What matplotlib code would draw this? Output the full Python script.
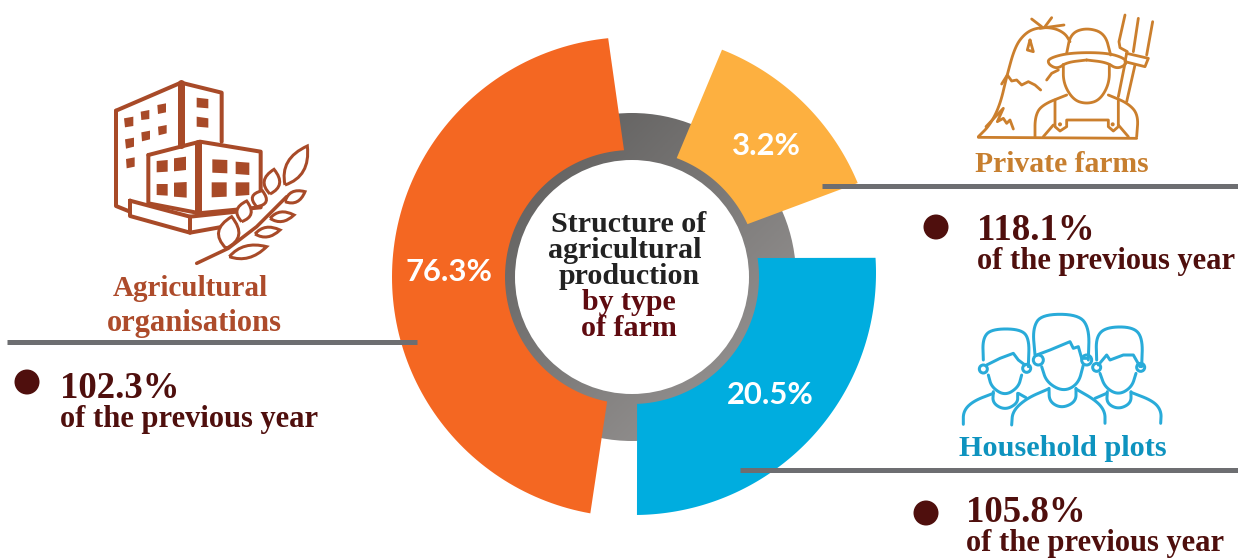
import numpy as np
import matplotlib
matplotlib.use("Agg")
import matplotlib.pyplot as plt
from matplotlib.colors import LinearSegmentedColormap
from matplotlib.patches import Circle, PathPatch, Polygon
from matplotlib.path import Path

# data
farm_names = ["Agricultural\norganisations", "Household plots", "Private farms"]
shares = [76.3, 20.5, 3.2]
growth = [102.3, 105.8, 118.1]
growth_note = "of the previous year"
title_dark = ["Structure of", "agricultural", "production"]
title_red = ["by type", "of farm"]

# the slices are not proportional in the original, so angles are read off the picture
outer_from = [95.7, 270.7, 22.6]
outer_to = [260.0, 363.6, 68.4]
inner_from = [93.6, 272.3, 24.6]
inner_to = [258.7, 368.6, 69.4]

colors = ["#F46722", "#00ADDF", "#FDB040"]
BROWN = "#A84A28"
ORANGE = "#CB7F2D"
BLUE = "#29ABD9"
MAROON = "#4F0F0D"
LINE = "#6D6E71"
SERIF = "Liberation Serif"
SANS = "Lato"
CX, CY = 632, 277

fig = plt.figure(figsize=(12.38, 5.58), dpi=100)
ax = fig.add_axes([0, 0, 1, 1])
ax.set_xlim(0, 1238)
ax.set_ylim(558, 0)
ax.axis("off")


def px(w):
    return w * 0.72


def to_xy(angle, r, cx=CX, cy=CY):
    t = np.radians(angle)
    return np.column_stack([cx + r * np.cos(t), cy - r * np.sin(t)])


# grey ring with diagonal gradient
grad = np.add.outer(np.linspace(0, 1, 200), np.linspace(0, 1, 200))
cmap = LinearSegmentedColormap.from_list("ring", ["#565554", "#a09d9c"])
im = ax.imshow(grad, cmap=cmap, extent=(CX - 165, CX + 165, CY + 165, CY - 165), zorder=1)
im.set_clip_path(Circle((CX, CY), 164, transform=ax.transData))
ax.set_xlim(0, 1238)
ax.set_ylim(558, 0)
ax.add_patch(Circle((CX, CY), 117, fc="white", ec="none", zorder=2))

# outer arcs are slightly off centre in the original
arc_geom = [(632, 277, 240), (634, 273, 242), (632, 277, 244.5)]
for i in range(3):
    cx, cy, r = arc_geom[i]
    outer = to_xy(np.linspace(outer_from[i], outer_to[i], 120), r, cx, cy)
    inner = to_xy(np.linspace(inner_to[i], inner_from[i], 80), 127)
    ax.add_patch(Polygon(np.vstack([outer, inner]), closed=True, fc=colors[i], ec="none", zorder=3))

# leader lines
ax.plot([7, 417], [342, 342], color=LINE, lw=px(5), solid_capstyle="butt", zorder=4)
ax.plot([822, 1238], [186, 186], color=LINE, lw=px(5), solid_capstyle="butt", zorder=4)
ax.plot([740, 1238], [470, 470], color=LINE, lw=px(5), solid_capstyle="butt", zorder=4)

# percentages on the slices
share_pos = [(449, 272), (770, 395), (766, 146)]
for (x, y), v in zip(share_pos, shares):
    ax.text(x, y, f"{v}%", color="white", family=SANS, weight="bold", fontsize=22.3,
            ha="center", va="center", zorder=5)

# centre title
title_y = [224, 251, 277, 303, 328]
title_x = [629, 625, 629, 629, 629]
for k, line in enumerate(title_dark + title_red):
    ax.text(title_x[k], title_y[k], line, color="#222222" if k < 3 else "#5F0B10",
            family=SERIF, weight="bold", fontsize=21.6, ha="center", va="center", zorder=5)

# farm names
ax.text(190, 289, "Agricultural", color="#AD4B2B", family=SERIF, weight="bold", fontsize=21,
        ha="center", va="center")
ax.text(194, 323, "organisations", color="#AD4B2B", family=SERIF, weight="bold", fontsize=22,
        ha="center", va="center")
ax.text(1062, 164, farm_names[2], color="#C77F2F", family=SERIF, weight="bold", fontsize=21.3,
        ha="center", va="center")
ax.text(1063, 449, farm_names[1], color="#0E93BF", family=SERIF, weight="bold", fontsize=21.8,
        ha="center", va="center")

# growth blocks
block_pos = [(27, 382, 60, 388, 419), (926, 513, 966, 512, 544), (936, 227, 977, 231, 262)]
for (dx, dy, tx, y1, y2), g in zip(block_pos, growth):
    ax.add_patch(Circle((dx, dy), 12.5, fc=MAROON, ec="none"))
    ax.text(tx, y1, f"{g}%", color=MAROON, family=SERIF, weight="bold", fontsize=26.5,
            ha="left", va="center")
    ax.text(tx, y2, growth_note, color=MAROON, family=SERIF, weight="bold", fontsize=22,
            ha="left", va="center")


# icons, coordinates taken from 3x crops
def smooth(pts, n=3):
    p = np.asarray(pts, float)
    for _ in range(n):
        q = p[:-1] * 0.75 + p[1:] * 0.25
        r = p[:-1] * 0.25 + p[1:] * 0.75
        p = np.vstack([p[0], np.column_stack([q, r]).reshape(-1, 2), p[-1]])
    return p


def stroke(origin, pts, color, w, curved=False, z=6):
    p = smooth(pts) if curved else np.asarray(pts, float)
    p = p / 3 + origin
    ax.plot(p[:, 0], p[:, 1], color=color, lw=px(w), solid_capstyle="round",
            solid_joinstyle="round", zorder=z)


def leaf(origin, base, tip, bulge):
    b, t = np.array(base, float), np.array(tip, float)
    d = t - b
    n = np.array([-d[1], d[0]]) / np.hypot(*d) * bulge * 1.8
    m = b + d * 0.45
    verts = [b, m + n, t, m - n, b]
    verts = [v / 3 + origin for v in verts]
    path = Path(verts, [Path.MOVETO, Path.CURVE3, Path.CURVE3, Path.CURVE3, Path.CURVE3])
    ax.add_patch(PathPatch(path, fc="white", ec=BROWN, lw=px(3), zorder=7))


o = np.array([100, 70])
for pts in [
    [(48, 122), (243, 38), (365, 68), (365, 215)],
    [(48, 122), (48, 408), (90, 425)],
    [(145, 255), (300, 215), (482, 245), (482, 412), (295, 430)],
    [(145, 255), (145, 400), (290, 428)],
    [(90, 392), (270, 440), (270, 488), (90, 438), (90, 392)],
    [(270, 488), (370, 470)],
    [(270, 440), (410, 425)],
]:
    stroke(o, pts, BROWN, 4)
stroke(o, [(243, 38), (243, 225)], BROWN, 7)
stroke(o, [(295, 218), (295, 430)], BROWN, 7)
windows = [
    [(72, 145), (100, 140), (100, 168), (75, 172)], [(122, 125), (148, 120), (148, 147), (124, 150)],
    [(172, 105), (198, 100), (198, 127), (174, 132)], [(75, 208), (102, 203), (102, 230), (78, 236)],
    [(124, 187), (150, 182), (150, 208), (126, 214)], [(174, 170), (200, 165), (200, 190), (176, 196)],
    [(78, 267), (104, 262), (104, 290), (80, 295)], [(290, 83), (325, 87), (325, 115), (290, 112)],
    [(290, 140), (325, 145), (325, 173), (290, 170)], [(170, 273), (203, 270), (203, 305), (170, 307)],
    [(222, 265), (258, 260), (258, 300), (222, 304)], [(170, 342), (203, 342), (203, 377), (170, 375)],
    [(222, 338), (260, 336), (260, 383), (222, 380)], [(337, 268), (382, 270), (382, 310), (337, 308)],
    [(407, 275), (448, 278), (448, 315), (407, 312)], [(335, 337), (380, 337), (380, 380), (335, 382)],
    [(407, 337), (448, 337), (448, 375), (407, 378)],
]
for w in windows:
    ax.add_patch(Polygon(np.array(w, float) / 3 + o, closed=True, fc=BROWN, ec="none", zorder=6))
for base, tip, b in [
    ((555, 345), (622, 228), 30), ((510, 372), (522, 298), 26), ((470, 410), (487, 362), 24),
    ((425, 455), (440, 393), 24), ((378, 535), (395, 440), 34), ((555, 395), (615, 365), 18),
    ((510, 445), (582, 435), 16), ((465, 492), (540, 480), 16), ((388, 560), (500, 530), 20),
]:
    leaf(o, base, tip, b)
stroke(o, [(290, 580), (385, 535), (470, 470), (560, 380)], BROWN, 3.5, z=8)

o = np.array([970, 5])
for pts, curved in [
    ([(25, 397), (500, 400)], False),
    ([(25, 395), (60, 360), (90, 300), (110, 215), (135, 125), (165, 85), (200, 68), (250, 68), (285, 85), (300, 110)], True),
    ([(185, 42), (215, 65)], False), ([(245, 38), (225, 65)], False), ([(210, 70), (282, 60)], False),
    ([(95, 237), (112, 210), (125, 228), (140, 225), (155, 240), (175, 230), (195, 240), (212, 255)], False),
    ([(48, 365), (100, 310), (82, 350), (100, 340), (110, 355), (120, 345), (130, 372)], False),
    ([(180, 105), (172, 135), (190, 140), (180, 105)], False),
    ([(230, 225), (245, 205), (265, 195)], False),
    ([(290, 145), (302, 85), (350, 68), (405, 85), (422, 150)], True),
    ([(350, 165), (290, 172), (262, 192), (235, 178), (235, 160), (300, 143), (410, 143), (465, 160), (470, 178), (440, 192), (410, 172), (350, 165)], True),
    ([(280, 178), (280, 235), (310, 285), (350, 297), (390, 285), (418, 235), (418, 178)], True),
    ([(195, 395), (195, 335), (215, 300), (290, 270)], True),
    ([(500, 395), (505, 330), (475, 295), (415, 270)], True),
    ([(255, 285), (255, 365), (270, 378), (290, 365), (290, 345), (415, 345), (415, 365), (430, 378), (445, 365), (445, 285)], False),
    ([(220, 395), (250, 360)], False), ([(475, 395), (445, 360)], False),
    ([(465, 30), (447, 110), (450, 128), (472, 140)], False),
    ([(505, 40), (490, 140)], False),
    ([(548, 50), (530, 150)], False),
    ([(470, 145), (535, 160), (525, 185), (465, 170), (470, 145)], False),
    ([(465, 175), (445, 275)], False), ([(495, 180), (470, 290)], False),
]:
    stroke(o, pts, ORANGE, 2.8, curved)
for x, y in [(270, 358), (428, 358)]:
    ax.add_patch(Circle((x / 3 + o[0], y / 3 + o[1]), 2, fc=ORANGE, ec="none", zorder=6))

o = np.array([950, 305])
for pts, curved in [
    ([(255, 150), (248, 70), (275, 28), (385, 28), (418, 70), (415, 165)], True),
    ([(260, 150), (300, 135), (360, 110), (370, 130), (385, 125), (395, 160), (410, 160)], False),
    ([(275, 185), (290, 232), (340, 260), (385, 237), (400, 180)], True),
    ([(297, 250), (298, 290), (335, 310), (378, 290), (378, 250)], True),
    ([(185, 360), (188, 318), (230, 280), (295, 252)], True),
    ([(378, 252), (440, 288), (465, 320), (465, 355)], True),
    ([(100, 165), (98, 100), (125, 72), (210, 72), (238, 100), (235, 185)], True),
    ([(110, 180), (150, 160), (190, 145), (205, 165), (225, 180)], False),
    ([(115, 210), (125, 247), (165, 272), (205, 247), (215, 210)], True),
    ([(130, 260), (128, 295), (165, 315), (203, 295), (203, 265)], True),
    ([(40, 358), (40, 318), (70, 288), (130, 265)], True),
    ([(205, 265), (228, 278)], False),
    ([(440, 165), (438, 95), (470, 66), (550, 66), (578, 100), (575, 185)], True),
    ([(445, 180), (470, 150), (480, 165), (520, 150), (550, 150), (570, 185)], False),
    ([(450, 205), (465, 247), (505, 270), (545, 247), (558, 205)], True),
    ([(472, 260), (470, 295), (505, 313), (543, 295), (543, 260)], True),
    ([(543, 262), (610, 288), (634, 318), (632, 355)], True),
    ([(470, 265), (435, 280)], False),
]:
    stroke(o, pts, BLUE, 3, curved)
for x, y, r in [(265, 165, 5), (410, 165, 5), (100, 192, 4), (230, 190, 4), (440, 187, 4), (572, 187, 4)]:
    ax.add_patch(Circle((x / 3 + o[0], y / 3 + o[1]), r, fc="white", ec=BLUE, lw=px(3), zorder=5))

fig.savefig("out.png", dpi=100)
